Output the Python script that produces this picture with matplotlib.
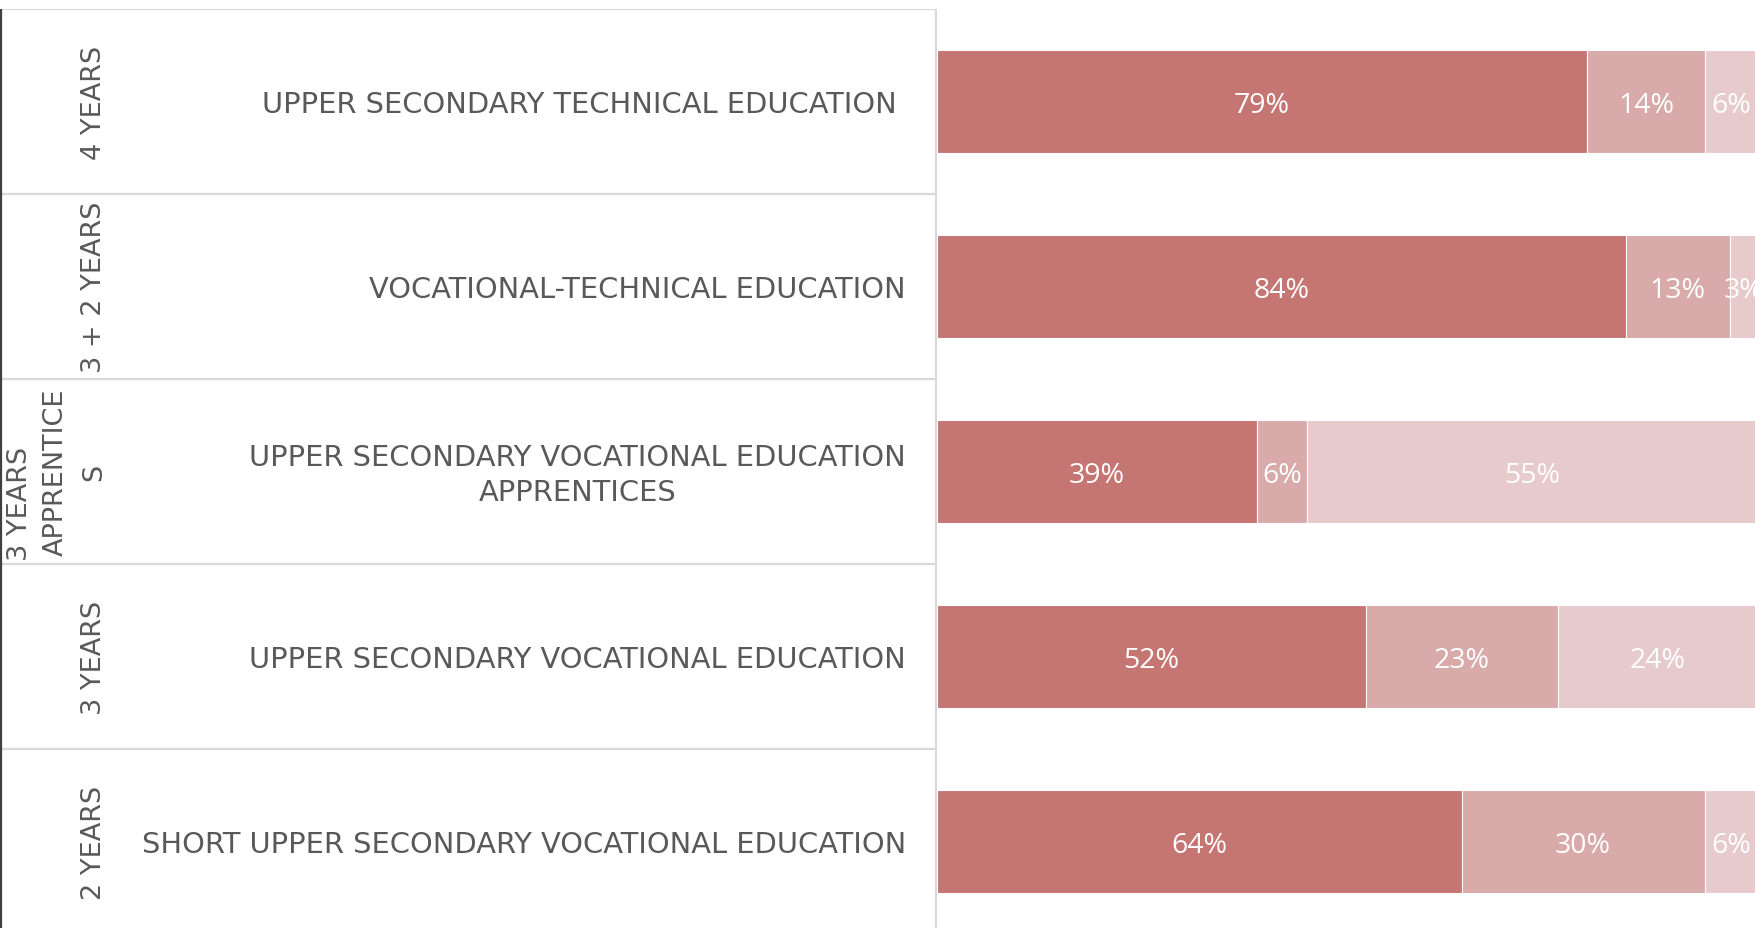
import matplotlib
matplotlib.use("Agg")
import matplotlib.pyplot as plt
import numpy as np

# ---- data (shares in %; labels show rounded values) ----
durations = ["4 YEARS", "3 + 2 YEARS", "3 YEARS APPRENTICES", "3 YEARS", "2 YEARS"]
programmes = [
    "UPPER SECONDARY TECHNICAL EDUCATION",
    "VOCATIONAL-TECHNICAL EDUCATION",
    "UPPER SECONDARY VOCATIONAL EDUCATION\nAPPRENTICES",
    "UPPER SECONDARY VOCATIONAL EDUCATION",
    "SHORT UPPER SECONDARY VOCATIONAL EDUCATION",
]
seg1 = [79.3, 84.0, 39.0, 52.3, 64.0]
seg2 = [14.4, 12.7, 6.1, 23.4, 29.6]
seg3 = [6.3, 3.3, 54.9, 24.3, 6.4]

colors = ["#C57572", "#D9AAAA", "#E7CBCC"]
text_grey = "#595959"
line_grey = "#D9D9D9"

W, H = 1755, 929
fig = plt.figure(figsize=(W / 100, H / 100), dpi=100)
fig.patch.set_facecolor("white")

top_px, bottom_px, split_px = 10, 935, 937
bar_span_px = 820
ax_bottom = 1 - bottom_px / H
ax_height = (bottom_px - top_px) / H

n = len(programmes)
ypos = np.arange(n)

# ---- left table ----
axL = fig.add_axes([0, ax_bottom, split_px / W, ax_height])
axL.set_xlim(0, split_px)
axL.set_ylim(n - 0.5, -0.5)
axL.axis("off")
for b in np.arange(-0.5, n + 0.5, 1.0):
    axL.axhline(b, color=line_grey, lw=1.6, zorder=1)
axL.axvline(split_px - 1, color=line_grey, lw=1.6)
axL.axvline(0.8, color="#404040", lw=1.6)

rot_kw = dict(rotation=90, color=text_grey, fontsize=19.5, family="DejaVu Sans")
for i, d in enumerate(durations):
    if i == 2:
        axL.text(20, i + 0.48, "3 YEARS", ha="center", va="bottom", **rot_kw)
        axL.text(56, i, "APPRENTICE", ha="center", va="center", **rot_kw)
        axL.text(94, i, "S", ha="center", va="center", **rot_kw)
    else:
        axL.text(94, i, d, ha="center", va="center", **rot_kw)

for i, p in enumerate(programmes):
    xr = 897 if i == 0 else 906
    axL.text(xr, i + 0.015, p, ha="right", va="center", multialignment="center",
             color=text_grey, fontsize=20.8, family="DejaVu Sans",
             linespacing=1.3)

# ---- bars ----
axR = fig.add_axes([split_px / W, ax_bottom, bar_span_px / W, ax_height])
axR.set_xlim(0, 100)
axR.set_ylim(n - 0.5, -0.5)
axR.axis("off")

left = np.zeros(n)
for vals, c in zip([seg1, seg2, seg3], colors):
    vals = np.array(vals, dtype=float)
    axR.barh(ypos, vals, left=left, height=0.56, color=c,
             edgecolor="white", linewidth=0.8)
    for y, l, v in zip(ypos, left, vals):
        axR.text(l + v / 2, y + 0.02, f"{v:.0f}%", ha="center", va="center",
                 color="white", fontsize=20.5, family="Open Sans", clip_on=False)
    left += vals

fig.savefig("out.png", dpi=100, facecolor="white")
